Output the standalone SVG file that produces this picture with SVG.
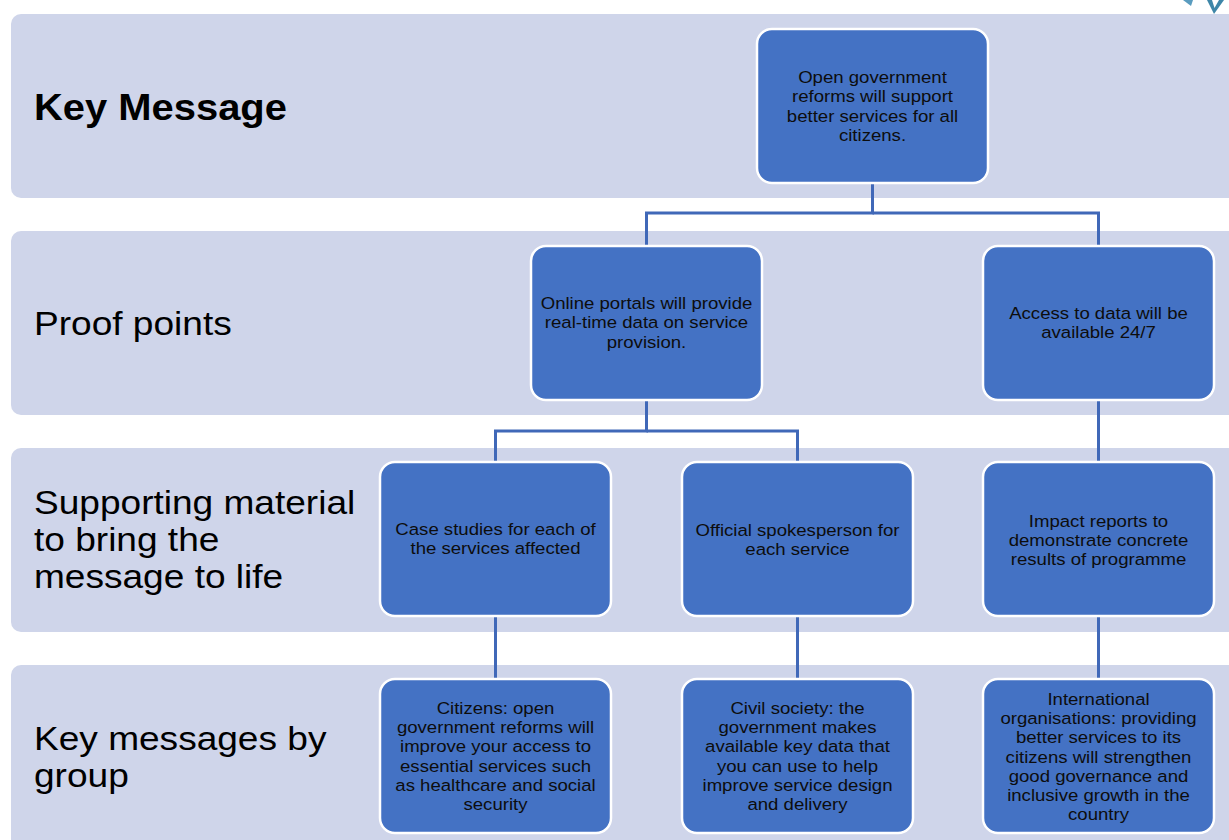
<svg xmlns="http://www.w3.org/2000/svg" width="1229" height="840" viewBox="0 0 1229 840">
<style>
.band{fill:#CFD5EA;}
.node{fill:#4472C4;stroke:#FFFFFF;stroke-width:2.5;}
.nt{font-family:"Liberation Sans",Arial,sans-serif;font-size:16.9px;fill:#0D0D0D;text-anchor:middle;}
.lbl{font-family:"Liberation Sans",Arial,sans-serif;font-size:33.7px;fill:#000000;}
.conn{fill:none;stroke:#4068B8;stroke-width:3;}
</style>
<rect width="1229" height="840" fill="#FFFFFF"/>
<g id="decoration">
<polygon points="1183,0 1193,0 1191,6" fill="#5A9CBF"/>
<polygon points="1207,0 1224,0 1214,14" fill="#3E86A8"/>
<polygon points="1212,0 1219,0 1214.5,8" fill="#FFFFFF"/>
</g>
<g id="bands">
<rect class="band" x="11" y="14" width="1228" height="184" rx="10"/>
<rect class="band" x="11" y="231" width="1228" height="184" rx="10"/>
<rect class="band" x="11" y="448" width="1228" height="184" rx="10"/>
<rect class="band" x="11" y="665" width="1228" height="190" rx="10"/>
</g>
<g id="labels">
<text class="lbl" font-weight="bold" style="font-size:36.3px" transform="matrix(1.1 0 0 1 34 0)"><tspan x="0" y="120">Key Message</tspan></text>
<text class="lbl" transform="matrix(1.1 0 0 1 34 0)"><tspan x="0" y="335">Proof points</tspan></text>
<text class="lbl" transform="matrix(1.1 0 0 1 34 0)"><tspan x="0" y="514">Supporting material</tspan><tspan x="0" y="551">to bring the</tspan><tspan x="0" y="588">message to life</tspan></text>
<text class="lbl" transform="matrix(1.1 0 0 1 34 0)"><tspan x="0" y="750">Key messages by</tspan><tspan x="0" y="787">group</tspan></text>
</g>
<g id="connectors">
<polyline class="conn" points="872.5,184 872.5,213 646.5,213 646.5,246"/>
<polyline class="conn" points="872.5,213 1098.5,213 1098.5,246"/>
<polyline class="conn" points="646.5,400 646.5,431 495.5,431 495.5,462"/>
<polyline class="conn" points="646.5,431 797.5,431 797.5,462"/>
<line class="conn" x1="1098.5" y1="400" x2="1098.5" y2="462"/>
<line class="conn" x1="495.5" y1="616" x2="495.5" y2="679"/>
<line class="conn" x1="797.5" y1="616" x2="797.5" y2="679"/>
<line class="conn" x1="1098.5" y1="616" x2="1098.5" y2="679"/>
</g>
<g id="node-key">
<rect class="node" x="757" y="29" width="231" height="154" rx="15"/>
<text class="nt" transform="matrix(1.1 0 0 1 872.5 0)"><tspan x="0" y="83">Open government</tspan><tspan x="0" y="102">reforms will support</tspan><tspan x="0" y="122">better services for all</tspan><tspan x="0" y="141">citizens.</tspan></text>
</g>
<g id="node-portals">
<rect class="node" x="531" y="246" width="231" height="154" rx="15"/>
<text class="nt" transform="matrix(1.1 0 0 1 646.5 0)"><tspan x="0" y="309">Online portals will provide</tspan><tspan x="0" y="328">real-time data on service</tspan><tspan x="0" y="348">provision.</tspan></text>
</g>
<g id="node-access">
<rect class="node" x="983" y="246" width="231" height="154" rx="15"/>
<text class="nt" transform="matrix(1.1 0 0 1 1098.5 0)"><tspan x="0" y="319">Access to data will be</tspan><tspan x="0" y="338">available 24/7</tspan></text>
</g>
<g id="node-case">
<rect class="node" x="380" y="462" width="231" height="154" rx="15"/>
<text class="nt" transform="matrix(1.1 0 0 1 495.5 0)"><tspan x="0" y="535">Case studies for each of</tspan><tspan x="0" y="554">the services affected</tspan></text>
</g>
<g id="node-spokesperson">
<rect class="node" x="682" y="462" width="231" height="154" rx="15"/>
<text class="nt" transform="matrix(1.1 0 0 1 797.5 0)"><tspan x="0" y="536">Official spokesperson for</tspan><tspan x="0" y="555">each service</tspan></text>
</g>
<g id="node-impact">
<rect class="node" x="983" y="462" width="231" height="154" rx="15"/>
<text class="nt" transform="matrix(1.1 0 0 1 1098.5 0)"><tspan x="0" y="527">Impact reports to</tspan><tspan x="0" y="546">demonstrate concrete</tspan><tspan x="0" y="565">results of programme</tspan></text>
</g>
<g id="node-citizens">
<rect class="node" x="380" y="679" width="231" height="154" rx="15"/>
<text class="nt" transform="matrix(1.1 0 0 1 495.5 0)"><tspan x="0" y="714">Citizens: open</tspan><tspan x="0" y="733">government reforms will</tspan><tspan x="0" y="752">improve your access to</tspan><tspan x="0" y="772">essential services such</tspan><tspan x="0" y="791">as healthcare and social</tspan><tspan x="0" y="810">security</tspan></text>
</g>
<g id="node-civil">
<rect class="node" x="682" y="679" width="231" height="154" rx="15"/>
<text class="nt" transform="matrix(1.1 0 0 1 797.5 0)"><tspan x="0" y="714">Civil society: the</tspan><tspan x="0" y="733">government makes</tspan><tspan x="0" y="752">available key data that</tspan><tspan x="0" y="772">you can use to help</tspan><tspan x="0" y="791">improve service design</tspan><tspan x="0" y="810">and delivery</tspan></text>
</g>
<g id="node-international">
<rect class="node" x="983" y="679" width="231" height="154" rx="15"/>
<text class="nt" transform="matrix(1.1 0 0 1 1098.5 0)"><tspan x="0" y="705">International</tspan><tspan x="0" y="724">organisations: providing</tspan><tspan x="0" y="743">better services to its</tspan><tspan x="0" y="763">citizens will strengthen</tspan><tspan x="0" y="782">good governance and</tspan><tspan x="0" y="801">inclusive growth in the</tspan><tspan x="0" y="820">country</tspan></text>
</g>
</svg>
